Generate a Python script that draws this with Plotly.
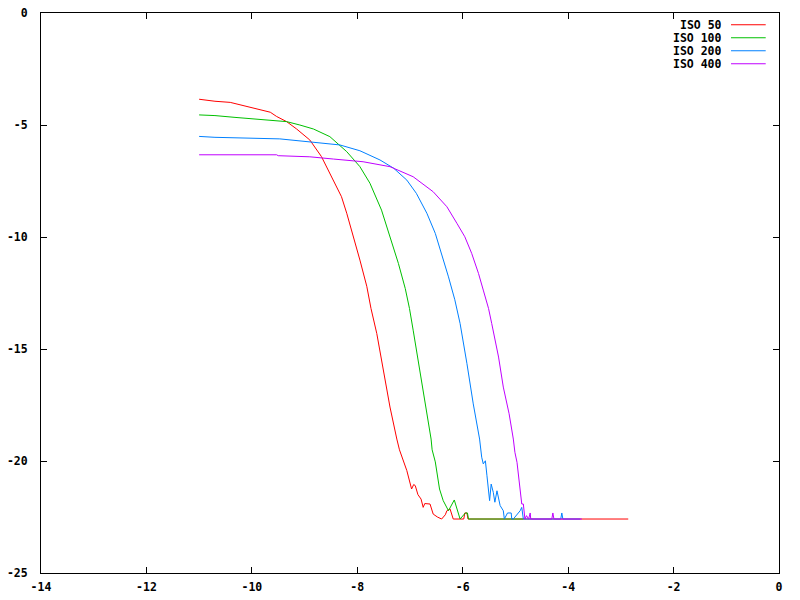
import plotly.graph_objects as go

# ---- data ----
series_names = ["ISO 50", "ISO 100", "ISO 200", "ISO 400"]
series_colors = ["#ff0000", "#00c000", "#0080ff", "#c000ff"]

iso50_x = [-11.0, -10.70, -10.41, -10.19, -10.0, -9.78, -9.65, -9.53, -9.34, -9.15, -8.90, -8.68,
           -8.52, -8.30, -8.20, -8.07, -7.95, -7.82, -7.74, -7.63, -7.51, -7.38, -7.25, -7.20,
           -7.06, -7.0, -6.97, -6.93, -6.90, -6.85, -6.79, -6.75, -6.72, -6.62, -6.56, -6.48,
           -6.40, -6.33, -6.30, -6.24, -6.18, -5.98, -5.96, -5.92, -5.90, -2.86]
iso50_y = [-3.85, -3.94, -3.99, -4.11, -4.21, -4.36, -4.43, -4.62, -4.85, -5.18, -5.67, -6.41,
           -7.16, -8.20, -8.94, -9.99, -11.03, -12.2, -13.19, -14.31, -15.95, -17.59, -19.02, -19.50,
           -20.43, -20.9, -21.25, -21.05, -21.10, -21.5, -21.7, -22.07, -21.9, -21.92, -22.37, -22.5,
           -22.59, -22.4, -22.22, -22.14, -22.59, -22.59, -22.32, -22.32, -22.59, -22.59]

iso100_x = [-11.0, -10.70, -10.32, -10.1, -9.84, -9.59, -9.34, -9.09, -8.83, -8.52, -8.20, -7.95,
            -7.76, -7.54, -7.38, -7.22, -7.09, -7.01, -6.94, -6.81, -6.70, -6.60, -6.58, -6.52,
            -6.44, -6.37, -6.27, -6.16, -6.05, -5.95, -5.91, -5.89, -4.85]
iso100_y = [-4.55, -4.58, -4.66, -4.70, -4.73, -4.79, -4.85, -5.0, -5.18, -5.52, -6.19, -6.86,
            -7.60, -8.80, -9.99, -11.18, -12.3, -13.19, -14.16, -15.95, -17.59, -19.02, -19.50, -20.04,
            -21.25, -21.77, -22.22, -21.74, -22.59, -22.32, -22.32, -22.59, -22.59]

iso200_x = [-11.0, -10.70, -9.47, -8.90, -8.33, -7.95, -7.57, -7.31, -7.06, -6.88, -6.68, -6.52,
            -6.40, -6.27, -6.15, -6.05, -5.92, -5.80, -5.68, -5.64, -5.61, -5.57, -5.54, -5.49,
            -5.46, -5.42, -5.39, -5.35, -5.29, -5.23, -5.21, -5.15, -5.08, -5.07, -5.04, -4.91,
            -4.88, -4.85, -4.14, -4.12, -4.10, -3.77]
iso200_y = [-5.51, -5.55, -5.62, -5.74, -5.89, -6.15, -6.56, -6.93, -7.46, -8.05, -8.94, -9.84,
            -10.73, -11.78, -12.8, -13.86, -15.65, -17.45, -19.02, -19.83, -20.13, -19.99, -20.66, -21.77,
            -21.03, -21.40, -21.84, -21.33, -21.99, -22.22, -22.59, -22.32, -22.32, -22.59, -22.59, -22.22,
            -22.07, -22.59, -22.59, -22.32, -22.59, -22.59]

iso400_x = [-11.0, -9.53, -9.50, -8.90, -8.45, -7.89, -7.38, -6.94, -6.56, -6.30, -6.11, -5.96,
            -5.83, -5.70, -5.61, -5.51, -5.45, -5.32, -5.23, -5.12, -5.04, -5.01, -4.97, -4.94,
            -4.91, -4.88, -4.85, -4.82, -4.79, -4.75, -4.72, -4.71, -4.31, -4.29, -4.27, -3.74]
iso400_y = [-6.33, -6.33, -6.37, -6.42, -6.52, -6.64, -6.86, -7.31, -7.98, -8.65, -9.39, -9.99,
            -10.73, -11.63, -12.37, -13.19, -13.86, -15.36, -16.70, -17.89, -19.02, -19.61, -20.06, -20.66,
            -21.47, -21.92, -21.92, -22.59, -22.44, -22.59, -22.32, -22.59, -22.59, -22.32, -22.59, -22.59]

series_x = [iso50_x, iso100_x, iso200_x, iso400_x]
series_y = [iso50_y, iso100_y, iso200_y, iso400_y]

x_ticks = [-14, -12, -10, -8, -6, -4, -2, 0]
y_ticks = [-25, -20, -15, -10, -5, 0]

FONT = "DejaVu Sans Mono"

fig = go.Figure()
for name, color, xs, ys in zip(series_names, series_colors, series_x, series_y):
    fig.add_trace(go.Scatter(x=xs, y=ys, mode="lines", name=name,
                             line=dict(color=color, width=1), showlegend=False))

# gnuplot-style key: text right-aligned, then line sample
row_h = 13 / 560
for i, (name, color) in enumerate(zip(series_names, series_colors)):
    yk = 0.979 - i * row_h
    fig.add_annotation(x=0.924, y=yk, xref="paper", yref="paper", text="<b>%s</b>" % name,
                       showarrow=False, xanchor="right", yanchor="middle", borderpad=0,
                       height=11, valign="middle",
                       font=dict(family=FONT, size=11.5, color="black"))
    fig.add_shape(type="line", xref="paper", yref="paper", x0=0.935, x1=0.982, y0=yk, y1=yk,
                  line=dict(color=color, width=1))

axis_common = dict(showline=True, linecolor="black", linewidth=1, mirror="ticks",
                   ticks="inside", ticklen=6, tickcolor="black", tickwidth=1,
                   showgrid=False, zeroline=False, automargin=False,
                   ticklabeloverflow="allow",
                   tickfont=dict(family=FONT, size=11.5, color="black"))

fig.update_xaxes(range=[-14, 0], tickvals=x_ticks, ticktext=["<b>%d</b>" % v for v in x_ticks],
                 ticklabelstandoff=3, **axis_common)
fig.update_yaxes(range=[-25, 0], tickvals=y_ticks, ticktext=["<b>%d</b>" % v for v in y_ticks],
                 ticklabelstandoff=10, **axis_common)

# the page body adds an 8px offset, so margins are shifted accordingly
fig.update_layout(width=800, height=600, margin=dict(l=33, r=29, t=5, b=35, autoexpand=False),
                  plot_bgcolor="white", paper_bgcolor="white")

fig.write_html("out.html")
